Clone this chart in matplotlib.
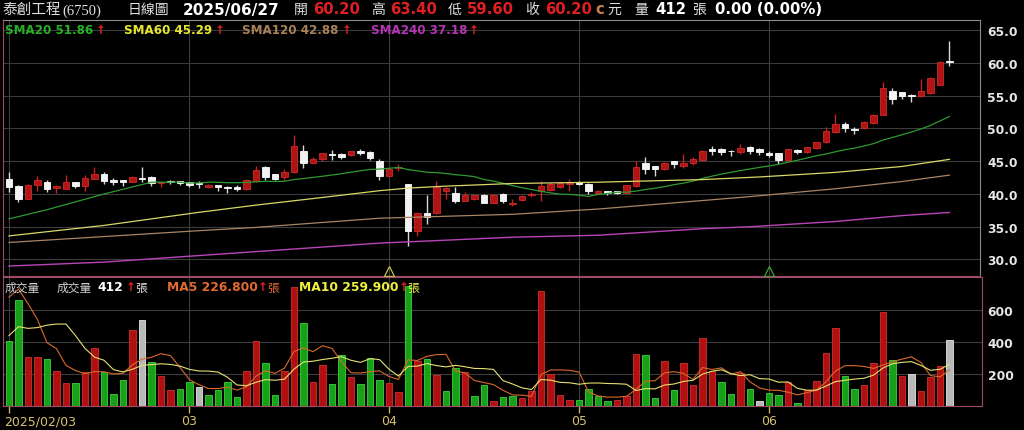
import matplotlib
matplotlib.use('Agg')
import matplotlib.pyplot as plt
import matplotlib.transforms as mtransforms
import numpy as np
import pandas as pd

# ---- 日K資料 (2025/02/03 ~ 2025/06/27) ----
opens = [42.3, 41.2, 39.3, 41.4, 41.8, 40.9, 40.8, 41.8, 41.2, 42.3,
         43.0, 42.1, 42.1, 41.8, 42.5, 42.6, 41.7, 41.9, 42.0, 41.9,
         41.6, 41.0, 41.3, 41.1, 41.0, 40.7, 42.0, 44.1, 43.0, 42.6,
         43.3, 46.5, 44.8, 45.3, 46.1, 46.1, 45.9, 46.5, 46.4, 45.0,
         42.8, 44.0, 41.5, 34.4, 37.1, 37.1, 40.5, 40.1, 39.0, 39.2,
         39.9, 38.7, 40.0, 38.5, 39.1, 39.9, 40.5, 40.6, 41.0, 41.6,
         41.9, 41.6, 40.2, 40.4, 40.4, 40.2, 41.2, 44.7, 44.2, 43.8,
         45.0, 44.3, 44.7, 45.2, 46.9, 46.9, 46.6, 46.4, 47.2, 46.9,
         46.2, 46.2, 45.2, 46.7, 46.4, 47.0, 47.9, 49.4, 50.7, 49.9,
         50.1, 50.8, 52.1, 55.7, 55.5, 55.1, 54.9, 55.4, 56.7, 60.2]
highs = [43.4, 41.3, 41.5, 42.7, 42.2, 41.3, 42.9, 41.9, 42.9, 44.1,
         43.3, 42.5, 42.2, 42.7, 44.1, 42.7, 42.0, 42.1, 42.0, 41.9,
         42.0, 41.5, 41.4, 41.2, 41.3, 42.3, 44.2, 44.2, 43.1, 43.8,
         49.0, 47.5, 45.7, 46.3, 46.7, 46.2, 46.6, 46.8, 46.5, 45.3,
         43.9, 44.6, 41.5, 37.3, 39.9, 42.0, 41.0, 41.1, 40.3, 40.0,
         40.0, 40.0, 40.1, 39.2, 39.8, 40.3, 42.0, 41.9, 41.8, 42.3,
         42.0, 41.7, 40.6, 40.5, 40.5, 41.4, 45.0, 45.6, 44.3, 44.9,
         45.1, 46.1, 45.6, 46.7, 47.4, 47.0, 46.7, 47.7, 47.3, 47.0,
         46.5, 46.3, 46.9, 46.9, 47.2, 48.0, 50.2, 52.2, 51.0, 50.2,
         51.2, 52.2, 57.1, 56.2, 55.6, 55.2, 57.5, 57.8, 60.3, 63.4]
lows = [40.3, 38.8, 39.2, 40.5, 40.3, 40.2, 40.7, 40.9, 40.5, 42.3,
        41.6, 41.4, 41.2, 41.8, 41.8, 41.2, 41.0, 41.6, 41.3, 41.1,
        40.9, 40.9, 40.5, 40.2, 40.5, 40.6, 41.9, 42.2, 42.1, 42.2,
        43.2, 44.0, 44.7, 45.0, 45.2, 45.4, 45.8, 46.0, 45.2, 42.2,
        42.7, 43.5, 32.0, 33.6, 35.4, 37.0, 39.2, 38.6, 38.9, 39.1,
        38.6, 38.6, 38.6, 38.2, 39.0, 39.6, 38.9, 40.5, 40.9, 40.5,
        41.3, 40.0, 40.0, 39.9, 40.0, 40.1, 41.1, 43.1, 42.8, 43.7,
        44.0, 44.0, 44.4, 45.1, 46.0, 45.9, 45.8, 46.1, 46.1, 46.0,
        45.7, 44.6, 45.1, 46.1, 46.3, 46.9, 47.8, 49.3, 49.4, 49.1,
        49.9, 50.7, 52.0, 53.7, 54.5, 54.0, 54.8, 55.3, 56.6, 59.6]
closes = [41.0, 39.2, 41.4, 42.2, 40.8, 41.2, 41.8, 41.2, 42.5, 43.0,
          42.0, 41.9, 41.8, 42.6, 42.3, 41.7, 41.9, 41.8, 41.7, 41.4,
          41.5, 41.4, 41.0, 40.9, 40.8, 42.2, 43.6, 42.6, 42.3, 43.4,
          47.4, 44.8, 45.3, 46.2, 46.0, 45.7, 46.5, 46.3, 45.5, 42.7,
          43.8, 44.1, 34.4, 37.1, 36.5, 41.0, 40.9, 38.9, 39.9, 39.9,
          38.7, 39.9, 39.0, 38.7, 39.7, 40.0, 41.2, 41.5, 41.7, 41.7,
          41.5, 40.4, 40.4, 40.1, 40.2, 41.3, 44.1, 43.8, 43.8, 44.8,
          44.6, 44.8, 45.3, 46.6, 46.6, 46.4, 46.5, 47.0, 46.5, 46.4,
          46.0, 45.2, 46.8, 46.4, 47.1, 47.9, 49.6, 50.7, 50.0, 49.7,
          51.0, 52.1, 56.2, 54.5, 54.9, 54.9, 55.7, 57.7, 60.2, 60.2]
volumes = [408, 664, 304, 308, 294, 221, 142, 142, 210, 360,
           215, 75, 162, 475, 537, 273, 188, 102, 106, 152,
           117, 69, 100, 152, 58, 221, 404, 267, 69, 221,
           742, 517, 148, 256, 138, 319, 179, 138, 298, 165,
           142, 85, 752, 279, 294, 194, 96, 235, 210, 60,
           131, 33, 58, 65, 50, 92, 717, 200, 69, 37,
           37, 106, 65, 33, 37, 60, 325, 319, 50, 279,
           100, 269, 131, 423, 217, 152, 75, 204, 106, 29,
           81, 69, 148, 21, 100, 158, 329, 485, 185, 106,
           131, 267, 590, 287, 190, 200, 92, 182, 248, 412]
# 量的顏色: r 漲, g 跌, w 平
vol_dir = list('ggrrgrrgrr'
               'gggrwgrrgg'
               'wggggrrggr'
               'rgrrggrggg'
               'rrgrgrggrg'
               'grggrrrrrr'
               'ggggrrrggr'
               'grrrrggrgw'
               'ggrgrrrrgg'
               'rrrgrwrrrw')

# 均線 (看圖讀取)
ma20_head_x = [0, 4, 10, 15, 18]
ma20_head_y = [36.2, 37.6, 40.0, 41.8, 41.8]
ma60_x = [0, 10, 20, 26, 32, 39, 42, 46, 53, 62, 73, 79, 87, 94, 99]
ma60_y = [33.6, 35.2, 37.2, 38.3, 39.3, 40.5, 40.9, 41.2, 41.6, 41.8, 42.2, 42.6, 43.3, 44.2, 45.29]
ma120_x = [0, 10, 20, 26, 39, 53, 62, 73, 78, 87, 94, 99]
ma120_y = [32.6, 33.5, 34.4, 34.9, 36.3, 36.9, 37.7, 39.0, 39.6, 40.8, 41.9, 42.88]
ma240_x = [0, 10, 20, 26, 39, 53, 62, 73, 78, 87, 94, 99]
ma240_y = [29.0, 29.6, 30.6, 31.2, 32.5, 33.4, 33.7, 34.7, 35.0, 35.8, 36.7, 37.18]
vol_ma5_head = [680, 730, 640, 540]
vol_ma10_head = [440, 496, 485, 490, 505, 512, 512, 440, 360]

month_idx = [0, 19, 40, 60, 80]
month_labels = ['2025/02/03', '03', '04', '05', '06']
price_ticks = [30, 35, 40, 45, 50, 55, 60, 65]
vol_ticks = [200, 400, 600]

W, H = 1024, 431
CJK = ['Noto Sans CJK TC', 'DejaVu Sans']
RED = '#e02020'

df = pd.DataFrame({'o': opens, 'h': highs, 'l': lows, 'c': closes, 'v': volumes})
x = np.arange(len(df))

fig = plt.figure(figsize=(W / 100, H / 100), dpi=100, facecolor='black')
ax = fig.add_axes([3 / W, 1 - 277 / H, 977 / W, 256 / H], facecolor='black')
axv = fig.add_axes([3 / W, 1 - 407 / H, 979 / W, 129 / H], facecolor='black')

# ============ K線 ============
up = df['c'] > df['o']
body_lo = np.minimum(df['o'], df['c'])
body_h = np.maximum((df['c'] - df['o']).abs(), 0.12)
fill = np.where(up, '#b01414', '#f2f2f2')
edge = np.where(up, '#d02828', '#ffffff')
wick = np.where(up, '#c82020', '#d8d8d8')
ax.vlines(x, df['l'], df['h'], colors=wick, linewidth=1.0, zorder=2)
ax.bar(x, body_h, bottom=body_lo, width=0.68, color=fill, edgecolor=edge,
       linewidth=0.6, zorder=2)

# 均線
ma20 = df['c'].rolling(20).mean()
ax.plot(ma20_head_x + list(x[19:]), ma20_head_y + list(ma20[19:]),
        color='#2e9a2e', lw=0.9, zorder=3)
ax.plot(ma60_x, ma60_y, color='#d8d868', lw=0.9, zorder=3)
ax.plot(ma120_x, ma120_y, color='#a88462', lw=0.9, zorder=3)
ax.plot(ma240_x, ma240_y, color='#b844b8', lw=1.0, zorder=3)

# 月份標記三角形
ax.plot(month_idx[2], 28.3, marker='^', mfc='none', mec='#c8c050', ms=7, mew=0.9, zorder=4)
ax.plot(month_idx[4], 28.3, marker='^', mfc='none', mec='#40a040', ms=7, mew=0.9, zorder=4)

ax.set_xlim(-0.63, -0.63 + 977 / 9.5)
ax.set_ylim(27.48, 66.56)
ax.set_xticks(month_idx)
ax.set_xticklabels([])
ax.set_yticks(price_ticks)
ax.set_yticklabels([f'{v:.1f}' for v in price_ticks])
ax.yaxis.tick_right()
ax.tick_params(axis='y', length=0, pad=5, labelcolor='#e6e6e6', labelsize=8.8)
ax.tick_params(axis='x', length=0)
for lb in ax.get_yticklabels():
    lb.set_fontweight('bold')
ax.grid(True, color='#3c3c3c', lw=0.8, zorder=0)
for s in ['top', 'right']:
    ax.spines[s].set_color('#8a8a8a')
for s in ['left', 'bottom']:
    ax.spines[s].set_color('#a04a6a')

# ============ 成交量 ============
cmap = {'r': ('#b01010', '#d03030'), 'g': ('#18a018', '#40d040'), 'w': ('#b8b8b8', '#e6e6e6')}
axv.bar(x, df['v'], width=0.66, color=[cmap[d][0] for d in vol_dir],
        edgecolor=[cmap[d][1] for d in vol_dir], linewidth=0.6, zorder=2)
vma5 = df['v'].rolling(5).mean()
vma10 = df['v'].rolling(10).mean()
axv.plot(x, vol_ma5_head + list(vma5[4:]), color='#d86a2a', lw=0.8, zorder=3)
axv.plot(x, vol_ma10_head + list(vma10[9:]), color='#e6e070', lw=0.8, zorder=3)

axv.set_xlim(-0.63, -0.63 + 979 / 9.5)
axv.set_ylim(0, 806)
axv.set_yticks(vol_ticks)
axv.set_yticklabels([str(v) for v in vol_ticks])
axv.yaxis.tick_right()
axv.tick_params(axis='y', length=0, pad=4, labelcolor='#e6e6e6', labelsize=8.8)
for lb in axv.get_yticklabels():
    lb.set_fontweight('bold')
axv.set_xticks(month_idx)
axv.set_xticklabels(month_labels)
axv.tick_params(axis='x', length=5, width=1, color='#c8b060', labelcolor='#d8c070',
                labelsize=9, pad=1)
first = axv.get_xticklabels()[0]
first.set_ha('left')
first.set_transform(first.get_transform() +
                    mtransforms.ScaledTranslation(-5 / 100, 0, fig.dpi_scale_trans))
axv.grid(True, color='#3c3c3c', lw=0.8, zorder=0)
for s in axv.spines.values():
    s.set_color('#a04a6a')


def put(px, py, s, color='#e0e0e0', size=10.5, weight='normal', family='DejaVu Sans'):
    fig.text(px / W, 1 - py / H, s, color=color, fontsize=size, fontweight=weight,
             family=family, ha='left', va='center')


# ============ 標題列 ============
put(2, 10, '泰創工程', size=10.5, family=CJK)
put(62, 11, '(6750)', size=10.5, family='Liberation Serif')
put(128, 10, '日線圖', size=10, family=CJK)
put(183, 10, '2025/06/27', color='white', size=11, weight='bold')
put(294, 10, '開', size=10, family=CJK)
put(313, 10, '60.20', color=RED, size=10.7, weight='bold')
put(371, 10, '高', size=10, family=CJK)
put(390, 10, '63.40', color=RED, size=10.7, weight='bold')
put(448, 10, '低', size=10, family=CJK)
put(467, 10, '59.60', color=RED, size=10.7, weight='bold')
put(525, 10, '收', size=10, family=CJK)
put(545, 10, '60.20', color=RED, size=10.7, weight='bold')
put(595, 10, 'c', color='#c08050', size=10.7, weight='bold')
put(607, 10, '元', size=10, family=CJK)
put(634, 10, '量', size=10, family=CJK)
put(655, 10, '412', color='white', size=10.7, weight='bold')
put(692, 10, '張', size=10, family=CJK)
put(715, 10, '0.00 (0.00%)', color='white', size=10.7, weight='bold')

# 均線圖例
put(5, 31, 'SMA20 51.86', color='#26b026', size=8.6, weight='bold')
put(96, 31, '↑', color=RED, size=8.6, weight='bold')
put(124, 31, 'SMA60 45.29', color='#e6e632', size=8.6, weight='bold')
put(215, 31, '↑', color=RED, size=8.6, weight='bold')
put(242, 31, 'SMA120 42.88', color='#a88058', size=8.6, weight='bold')
put(342, 31, '↑', color=RED, size=8.6, weight='bold')
put(371, 31, 'SMA240 37.18', color='#b434b4', size=8.6, weight='bold')
put(469, 31, '↑', color=RED, size=8.6, weight='bold')

# 成交量圖例
put(5, 288, '成交量', color='#d0d0d0', size=8.5, family=CJK)
put(57, 288, '成交量', color='#d0d0d0', size=8.5, family=CJK)
put(97, 288, '412', color='white', size=8.8, weight='bold')
put(126, 288, '↑', color=RED, size=8.6, weight='bold')
put(135, 288, '張', color='#e0e0e0', size=8.5, family=CJK)
put(167, 288, 'MA5 226.800', color='#e06a30', size=8.8, weight='bold')
put(258, 288, '↑', color=RED, size=8.6, weight='bold')
put(267, 288, '張', color='#e06a30', size=8.5, family=CJK)
put(299, 288, 'MA10 259.900', color='#f0f040', size=8.8, weight='bold')
put(399, 288, '↑', color=RED, size=8.6, weight='bold')
put(407, 288, '張', color='#f0f040', size=8.5, family=CJK)

fig.savefig('out.png', dpi=100, facecolor='black')
